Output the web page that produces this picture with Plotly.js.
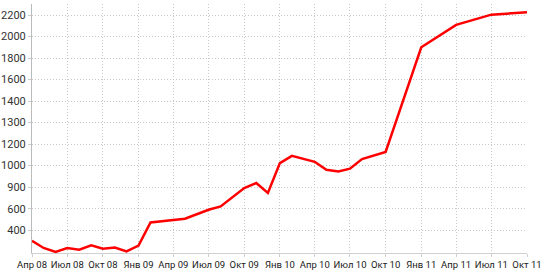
<!DOCTYPE html>
<html>
<head>
<meta charset="utf-8">
<script src="https://cdn.plot.ly/plotly-3.0.1.min.js"></script>
<style>html,body{margin:0;padding:0;background:#fff}#chart{width:551px;height:273px}</style>
</head>
<body>
<div id="chart"></div>
<script>
const dates = ['2008-04-01','2008-05-01','2008-06-01','2008-07-01','2008-08-01','2008-09-01','2008-10-01','2008-11-01','2008-12-01',
  '2009-01-01','2009-02-01','2009-05-01','2009-07-01','2009-08-01','2009-10-01','2009-11-01','2009-12-01',
  '2010-01-01','2010-02-01','2010-04-01','2010-05-01','2010-06-01','2010-07-01','2010-08-01','2010-10-01',
  '2011-01-01','2011-04-01','2011-07-01','2011-10-01'];
const values = [312,251,218,251,237,273,245,254,223,
  271,465,496,571,599,752,794,711,
  961,1022,972,905,891,914,995,1054,
  1930,2117,2203,2223];
const xTickVals = ['2008-04-01','2008-07-01','2008-10-01','2009-01-01','2009-04-01','2009-07-01','2009-10-01','2010-01-01',
  '2010-04-01','2010-07-01','2010-10-01','2011-01-01','2011-04-01','2011-07-01','2011-10-01'];
const xTickText = ['Апр 08','Июл 08','Окт 08','Янв 09','Апр 09','Июл 09','Окт 09','Янв 10',
  'Апр 10','Июл 10','Окт 10','Янв 11','Апр 11','Июл 11','Окт 11'];
const yTickVals = [400,580,760,940,1120,1300,1480,1660,1840,2020,2200];
const yTickText = ['400','600','900','1000','1200','1300','1400','1600','1800','2000','2200'];

Plotly.newPlot('chart', [{
  x: dates, y: values, type: 'scatter', mode: 'lines',
  line: {color: '#ff0000', width: 2.5}, hoverinfo: 'skip'
}], {
  width: 551, height: 273,
  margin: {l: 32, r: 24, t: 4, b: 20},
  paper_bgcolor: '#fff', plot_bgcolor: '#fff',
  showlegend: false,
  font: {family: 'Roboto, sans-serif', size: 10, color: '#333'},
  xaxis: {
    type: 'date', range: ['2008-04-01','2011-10-01'],
    tickmode: 'array', tickvals: xTickVals, ticktext: xTickText, tickangle: 0,
    showgrid: true, gridcolor: '#c8c8c8', griddash: '1px,2px', gridwidth: 1,
    showline: true, linecolor: '#d0d0d0', linewidth: 1,
    ticks: 'outside', ticklen: 3, tickcolor: '#d0d0d0',
    zeroline: false, tickfont: {family: 'Roboto, sans-serif', size: 9.5, color: '#1a1a1a'}
  },
  yaxis: {
    range: [209, 2292],
    tickmode: 'array', tickvals: yTickVals, ticktext: yTickText,
    showgrid: true, gridcolor: '#c8c8c8', griddash: '1px,2px', gridwidth: 1,
    showline: true, linecolor: '#bbbbbb', linewidth: 1,
    ticks: 'outside', ticklen: 3, tickcolor: '#cccccc',
    zeroline: false, tickfont: {family: 'Roboto, sans-serif', size: 11, color: '#333'}
  }
}, {displayModeBar: false, staticPlot: true});
</script>
</body>
</html>
